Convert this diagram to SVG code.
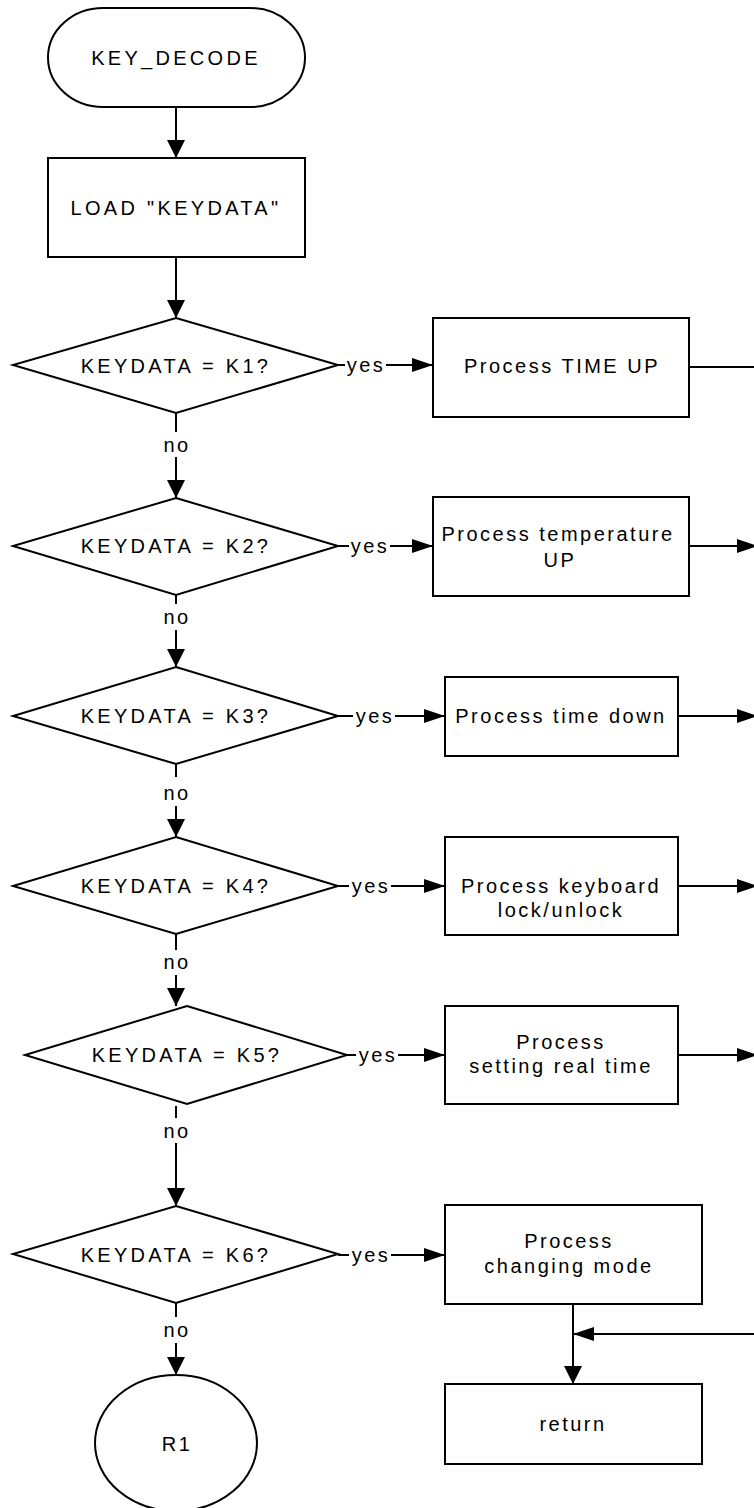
<svg xmlns="http://www.w3.org/2000/svg" width="754" height="1508" viewBox="0 0 754 1508">
<defs>
<style>
.s{fill:#fff;stroke:#000;stroke-width:2}
.l{fill:none;stroke:#000;stroke-width:2}
.v{marker-end:url(#av)}
.h{marker-end:url(#ah)}
text{font-family:"Liberation Sans",Arial,sans-serif;font-size:20px;letter-spacing:2.5px;fill:#000;text-anchor:middle}
text.w{letter-spacing:3.3px}
</style>
<marker id="av" markerUnits="userSpaceOnUse" markerWidth="18" markerHeight="18" refX="18" refY="9" orient="auto" viewBox="0 0 18 18"><path d="M0,0 L18,9 L0,18 Z" fill="#000"/></marker>
<marker id="ah" markerUnits="userSpaceOnUse" markerWidth="21" markerHeight="14" refX="21" refY="7" orient="auto" viewBox="0 0 21 14"><path d="M0,0 L21,7 L0,14 Z" fill="#000"/></marker>
</defs>
<rect width="754" height="1508" fill="#fff"/>

<g id="connectors">
<path class="l v" d="M176,107 V158"/>
<path class="l v" d="M176,257 V318"/>
<path class="l" d="M176,413 V432"/><path class="l v" d="M176,457 V498"/>
<path class="l" d="M176,595 V604"/><path class="l v" d="M176,630 V667"/>
<path class="l" d="M176,764 V777"/><path class="l v" d="M176,806 V837"/>
<path class="l" d="M176,934 V950"/><path class="l v" d="M176,975 V1006"/>
<path class="l" d="M176,1106 V1118"/><path class="l v" d="M176,1143 V1206"/>
<path class="l" d="M176,1303 V1317"/><path class="l v" d="M176,1343 V1375"/>

<path class="l" d="M338,365 H345"/><path class="l h" d="M386,365 H433"/>
<path class="l" d="M338,546 H349"/><path class="l h" d="M390,546 H433"/>
<path class="l" d="M338,716 H353"/><path class="l h" d="M395,716 H445"/>
<path class="l" d="M338,886 H349"/><path class="l h" d="M391,886 H445"/>
<path class="l" d="M347,1055 H356"/><path class="l h" d="M398,1055 H445"/>
<path class="l" d="M338,1255 H349"/><path class="l h" d="M391,1255 H445"/>

<path class="l" d="M689,367 H756"/>
<path class="l h" d="M689,546 H758"/>
<path class="l h" d="M678,716 H758"/>
<path class="l h" d="M678,886 H758"/>
<path class="l h" d="M678,1055 H758"/>
<path class="l h" d="M756,1334 H573"/>
<path class="l v" d="M573,1304 V1384"/>

<text x="366" y="372">yes</text>
<text x="370" y="553">yes</text>
<text x="375" y="723">yes</text>
<text x="371" y="893">yes</text>
<text x="378" y="1062">yes</text>
<text x="371" y="1262">yes</text>
<text x="177" y="452">no</text>
<text x="177" y="624">no</text>
<text x="177" y="800">no</text>
<text x="177" y="969">no</text>
<text x="177" y="1138">no</text>
<text x="177" y="1337">no</text>
</g>

<g id="start"><rect class="s" x="48" y="8" width="257" height="99" rx="55" ry="49.5"/><text class="w" x="176" y="65">KEY_DECODE</text></g>
<g id="load"><rect class="s" x="48" y="158" width="257" height="99"/><text class="w" x="176" y="215">LOAD "KEYDATA"</text></g>

<g id="k1"><polygon class="s" points="176,318 338,365 176,413 13,365"/><text class="w" x="176" y="373">KEYDATA = K1?</text></g>
<g id="k2"><polygon class="s" points="176,498 338,546 176,595 13,546"/><text class="w" x="176" y="553">KEYDATA = K2?</text></g>
<g id="k3"><polygon class="s" points="176,667 338,716 176,764 13,716"/><text class="w" x="176" y="723">KEYDATA = K3?</text></g>
<g id="k4"><polygon class="s" points="176,837 338,886 176,934 13,886"/><text class="w" x="176" y="893">KEYDATA = K4?</text></g>
<g id="k5"><polygon class="s" points="187,1006 347,1055 187,1104 25,1055"/><text class="w" x="187" y="1062">KEYDATA = K5?</text></g>
<g id="k6"><polygon class="s" points="176,1206 338,1254 176,1303 13,1254"/><text class="w" x="176" y="1262">KEYDATA = K6?</text></g>

<g id="p1"><rect class="s" x="433" y="318" width="256" height="99"/><text x="562" y="373">Process TIME UP</text></g>
<g id="p2"><rect class="s" x="433" y="497" width="256" height="99"/><text x="558" y="541">Process temperature</text><text x="560" y="567">UP</text></g>
<g id="p3"><rect class="s" x="445" y="677" width="233" height="79"/><text x="561" y="723">Process time down</text></g>
<g id="p4"><rect class="s" x="445" y="837" width="233" height="98"/><text x="561" y="893">Process keyboard</text><text x="561" y="917">lock/unlock</text></g>
<g id="p5"><rect class="s" x="445" y="1006" width="233" height="98"/><text x="561" y="1049">Process</text><text x="561" y="1073">setting real time</text></g>
<g id="p6"><rect class="s" x="445" y="1205" width="257" height="99"/><text x="569" y="1248">Process</text><text x="569" y="1273">changing mode</text></g>
<g id="ret"><rect class="s" x="445" y="1384" width="257" height="80"/><text x="573" y="1431">return</text></g>
<g id="r1"><ellipse class="s" cx="176" cy="1443" rx="81" ry="68"/><text x="177" y="1451">R1</text></g>
</svg>
